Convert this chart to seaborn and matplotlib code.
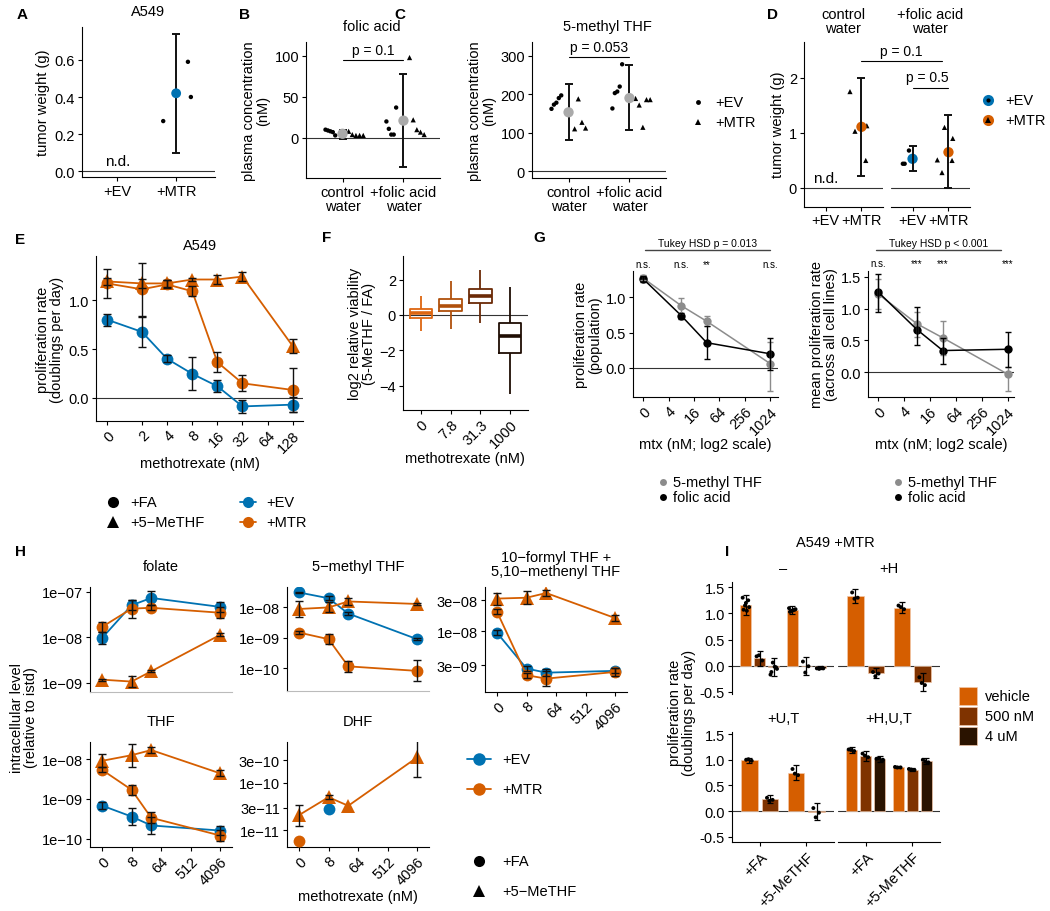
import numpy as np
import pandas as pd
import matplotlib.pyplot as plt
import seaborn as sns
from matplotlib.lines import Line2D
from matplotlib.patches import Rectangle
from matplotlib.ticker import NullLocator

# ---------------- data ----------------
# A: tumor weight, A549
a_groups = ['+EV', '+MTR']
a_mtr_pts = [0.27, 0.59, 0.40]
a_mtr_jit = [-0.22, 0.20, 0.25]
a_mtr_mean, a_mtr_lo, a_mtr_hi = 0.42, 0.10, 0.74

# B / C: plasma folates (circles = +EV mice, triangles = +MTR mice)
bc_groups = ['control\nwater', '+folic acid\nwater']
b_ctrl_ev = [10, 9, 8, 7, 3]
b_ctrl_mtr = [8, 4, 3, 3, 3]
b_fa_ev = [20, 11, 4, 4, 37]
b_fa_mtr = [98, 22, 10, 7, 4]
b_mean = [5, 21]
b_lo = [-1, -35]
b_hi = [10, 78]

c_ctrl_ev = [162, 173, 178, 190, 197]
c_ctrl_mtr = [110, 188, 127, 112]
c_fa_ev = [163, 203, 207, 220, 278]
c_fa_mtr = [189, 172, 114, 186, 186]
c_mean = [153, 190]
c_lo = [82, 107]
c_hi = [227, 275]

ev_jit = [-0.28, -0.24, -0.2, -0.16, -0.12]
mtr_jit = [0.1, 0.16, 0.22, 0.28, 0.34]

# D: tumor weight by water
d_ctrl_mtr = [1.75, 1.03, 1.13, 0.50]
d_ctrl_mtr_jit = [-0.32, -0.18, 0.15, 0.12]
d_ctrl_mtr_mean, d_ctrl_mtr_lo, d_ctrl_mtr_hi = 1.11, 0.22, 2.0
d_fa_ev = [0.68, 0.44, 0.44, 0.54]
d_fa_ev_jit = [-0.1, -0.27, -0.22, 0.05]
d_fa_ev_mean, d_fa_ev_lo, d_fa_ev_hi = 0.53, 0.30, 0.76
d_fa_mtr = [0.51, 0.28, 1.10, 0.90, 0.50]
d_fa_mtr_jit = [-0.31, -0.18, -0.11, 0.12, 0.10]
d_fa_mtr_mean, d_fa_mtr_lo, d_fa_mtr_hi = 0.65, 0.0, 1.32

# E: proliferation vs methotrexate
e_dose = [0, 2, 4, 8, 16, 32, 128]
e_ticks = [0, 2, 4, 8, 16, 32, 64, 128]
e_ev_fa = [0.80, 0.675, 0.40, 0.247, 0.12, -0.086, -0.068]
e_ev_fa_err = [0.06, 0.15, 0.035, 0.17, 0.06, 0.07, 0.075]
e_mtr_fa = [1.17, 1.11, 1.16, 1.09, 0.366, 0.15, 0.082]
e_mtr_fa_err = [0.15, 0.27, 0.04, 0.05, 0.105, 0.08, 0.22]
e_mtr_mthf = [1.19, 1.17, 1.17, 1.21, 1.21, 1.24, 0.53]
e_mtr_mthf_err = [0.04, 0.05, 0.04, 0.02, 0.05, 0.05, 0.075]

# F: log2 relative viability boxes
f_dose = ['0', '7.8', '31.3', '1000']
f_whislo = [-0.9, -0.8, -0.45, -4.5]
f_q1 = [-0.15, 0.2, 0.7, -2.15]
f_med = [0.1, 0.5, 1.1, -1.2]
f_q3 = [0.35, 0.9, 1.45, -0.45]
f_whishi = [1.05, 1.95, 2.55, 1.6]
f_colors = ['#DD6610', '#B0500C', '#6B2A06', '#1F0D03']

# G: population / mean across cell lines
g_dose = [0, 8, 32, 1024]
g_ticks = [0, 4, 16, 64, 256, 1024]
g_pop_mthf = [1.27, 0.88, 0.66, 0.06]
g_pop_mthf_lo = [1.24, 0.77, 0.59, -0.32]
g_pop_mthf_hi = [1.31, 0.99, 0.73, 0.37]
g_pop_fa = [1.26, 0.74, 0.357, 0.20]
g_pop_fa_lo = [1.22, 0.69, 0.13, -0.03]
g_pop_fa_hi = [1.30, 0.78, 0.59, 0.43]
g_pop_stars = ['n.s.', 'n.s.', '**', 'n.s.']
g_all_mthf = [1.23, 0.76, 0.54, -0.03]
g_all_mthf_lo = [1.0, 0.55, 0.27, -0.29]
g_all_mthf_hi = [1.46, 0.95, 0.80, 0.08]
g_all_fa = [1.26, 0.67, 0.34, 0.36]
g_all_fa_lo = [0.95, 0.42, 0.13, 0.08]
g_all_fa_hi = [1.55, 1.03, 0.53, 0.63]
g_all_stars = ['n.s.', '***', '***', '***']

# H: intracellular folates (mean, fold error)
h_dose = [0, 8, 32, 4096]
h_ticks = [0, 8, 64, 512, 4096]
h_folate_ev = [9.7e-9, 5.1e-8, 7.4e-8, 4.7e-8]
h_folate_ev_err = [1.37, 1.3, 1.43, 1.31]
h_folate_fa = [1.7e-8, 4.3e-8, 4.5e-8, 3.5e-8]
h_folate_fa_err = [1.31, 1.58, 1.13, 1.31]
h_folate_mthf = [1.18e-9, 1.07e-9, 1.8e-9, 1.14e-8]
h_folate_mthf_err = [1.05, 1.31, 1.05, 1.08]
h_mthf_ev = [3.1e-8, 2.0e-8, 6.3e-9, 9.1e-10]
h_mthf_ev_err = [1.05, 1.15, 1.1, 1.1]
h_mthf_fa = [1.5e-9, 9.1e-10, 1.17e-10, 8.3e-11]
h_mthf_fa_err = [1.15, 1.46, 1.5, 2.2]
h_mthf_mthf = [8.9e-9, 1.0e-8, 1.57e-8, 1.3e-8]
h_mthf_mthf_err = [1.8, 1.46, 1.29, 1.1]
h_formyl_ev = [9.5e-9, 2.66e-9, 2.3e-9, 2.45e-9]
h_formyl_ev_err = [1.09, 1.1, 1.13, 1.09]
h_formyl_fa = [2.0e-8, 2.1e-9, 1.86e-9, 2.36e-9]
h_formyl_fa_err = [1.09, 1.09, 1.3, 1.17]
h_formyl_mthf = [3.2e-8, 3.3e-8, 3.9e-8, 1.6e-8]
h_formyl_mthf_err = [1.24, 1.27, 1.13, 1.11]
h_thf_ev = [6.8e-10, 3.6e-10, 2.15e-10, 1.6e-10]
h_thf_ev_err = [1.23, 1.61, 1.61, 1.33]
h_thf_fa = [5.4e-9, 1.7e-9, 3.35e-10, 1.2e-10]
h_thf_fa_err = [1.15, 1.33, 1.39, 1.41]
h_thf_mthf = [9.1e-9, 1.26e-8, 1.7e-8, 4.4e-9]
h_thf_mthf_err = [1.47, 1.96, 1.21, 1.19]
h_dhf_ev = [np.nan, 2.85e-11, np.nan, np.nan]
h_dhf_ev_err = [1.0, 1.0, 1.0, 1.0]
h_dhf_fa = [5.9e-12, np.nan, np.nan, np.nan]
h_dhf_fa_err = [1.0, 1.0, 1.0, 1.0]
h_dhf_mthf = [2.1e-11, 5.0e-11, 3.3e-11, 3.45e-10]
h_dhf_mthf_err = [1.67, 1.09, 1.0, 2.55]

# I: A549 +MTR rescue bars
i_supp = ['+FA', '+5-MeTHF']
i_levels = ['vehicle', '500 nM', '4 uM']
i_palette = {'vehicle': '#D55E00', '500 nM': '#7F3300', '4 uM': '#2A1300'}
i_minus_mean = [[1.16, 0.14, -0.03], [1.06, -0.01, -0.04]]
i_minus_err = [[0.2, 0.14, 0.17], [0.08, 0.17, 0.03]]
i_minus_pts = [[[1.3, 1.25, 1.15, 1.12, 1.07, 1.05, 1.2], [0.18, 0.1, 0.2], [-0.17, -0.03, 0.06, -0.06, -0.12, -0.02]],
               [[1.1, 1.07, 1.05, 1.08, 1.03, 1.06], [0.08, -0.01, -0.13], [-0.05, -0.04, -0.06, -0.05]]]
i_h_mean = [[1.33, -0.14], [1.11, -0.31]]
i_h_err = [[0.14, 0.1], [0.1, 0.17]]
i_h_pts = [[[1.4, 1.3, 1.28], [-0.12, -0.15, -0.2]], [[1.15, 1.08, 1.12], [-0.22, -0.37, -0.33]]]
i_ut_mean = [[0.99, 0.23], [0.75, -0.01]]
i_ut_err = [[0.05, 0.08], [0.15, 0.17]]
i_ut_pts = [[[1.0, 0.98, 1.01], [0.26, 0.22, 0.2]], [[0.82, 0.7, 0.73], [0.06, -0.03, -0.12]]]
i_hut_mean = [[1.19, 1.08, 1.01], [0.85, 0.81, 0.97]]
i_hut_err = [[0.05, 0.1, 0.06], [0.02, 0.03, 0.06]]
i_hut_pts = [[[1.2, 1.17, 1.19], [1.12, 1.05, 1.08], [1.02, 0.99, 1.03, 1.0]],
             [[0.86, 0.85, 0.85], [0.82, 0.8, 0.81], [1.0, 0.95, 0.97]]]
i_jit = [-0.07, 0.05, -0.02, 0.07, -0.05, 0.02, 0.0]

# ---------------- style ----------------
FS = 10.5
sns.set_theme(style='ticks')
plt.rcParams['font.family'] = ['Liberation Sans', 'DejaVu Sans']
plt.rcParams.update({
    'font.size': FS, 'axes.linewidth': 0.8, 'axes.edgecolor': 'black',
    'xtick.major.size': 3, 'ytick.major.size': 3,
    'xtick.major.width': 0.8, 'ytick.major.width': 0.8,
    'xtick.major.pad': 2, 'ytick.major.pad': 2,
    'xtick.labelsize': FS, 'ytick.labelsize': FS,
    'xtick.color': 'black', 'ytick.color': 'black',
    'text.color': 'black', 'axes.labelcolor': 'black'})

BLUE = '#0072B2'
ORANGE = '#D55E00'
GRAY = '#8C8C8C'
W, H = 1050, 912
fig = plt.figure(figsize=(W / 100, H / 100), dpi=100)


def fx(x):
    return x / W


def fy(y):
    return 1 - y / H


def panel(l, t, r, b, xlim, ylim, left=True, bottom=True, zero=True):
    ax = fig.add_axes([l / W, 1 - b / H, (r - l) / W, (b - t) / H])
    ax.set_facecolor('none')
    ax.set_xlim(*xlim)
    ax.set_ylim(*ylim)
    for s in ['top', 'right']:
        ax.spines[s].set_visible(False)
    ax.spines['left'].set_visible(left)
    ax.spines['bottom'].set_visible(bottom)
    if not left:
        ax.tick_params(left=False, labelleft=False)
    if not bottom:
        ax.tick_params(bottom=False, labelbottom=False)
    if zero:
        ax.axhline(0, color='#333333', lw=0.8, zorder=0)
    return ax


def txt(x, y, s, **kw):
    kw.setdefault('ha', 'center')
    kw.setdefault('va', 'center')
    kw.setdefault('fontsize', FS)
    fig.text(fx(x), fy(y), s, **kw)


def ylab(x, y, s, **kw):
    txt(x, y, s, rotation=90, linespacing=1.0, **kw)


def log2_pos(doses, zero):
    d = np.asarray(doses, float)
    out = np.full(d.shape, float(zero))
    out[d > 0] = np.log2(d[d > 0])
    return out


def dots(ax, x, y, color='black', marker='o', s=10, z=3):
    sns.scatterplot(x=np.asarray(x, float), y=np.asarray(y, float), color=color, marker=marker,
                    s=s, edgecolor='none', linewidth=0, legend=False, ax=ax, zorder=z)


def ebar(ax, x, y, lo, hi, color='#111111', cap=3, lw=1.0, z=4):
    y = np.asarray(y, float)
    ax.errorbar(np.asarray(x, float), y, yerr=[y - np.asarray(lo, float), np.asarray(hi, float) - y],
                fmt='none', ecolor=color, elinewidth=lw, capsize=cap, capthick=lw, zorder=z)


def series(ax, x, y, color, marker, ms, lw=1.3):
    df = pd.DataFrame({'x': np.asarray(x, float), 'y': np.asarray(y, float)}).dropna()
    sns.lineplot(data=df, x='x', y='y', color=color, marker=marker, markersize=ms,
                 markeredgewidth=0, lw=lw, ax=ax, legend=False, errorbar=None, sort=False, zorder=3)
    ax.set_xlabel('')
    ax.set_ylabel('')


def key(x, y, color, marker=None, ms=6, span=0, lw=1.3):
    if span:
        fig.add_artist(Line2D([fx(x - span), fx(x + span)], [fy(y), fy(y)], color=color, lw=lw,
                              transform=fig.transFigure))
    if marker:
        fig.add_artist(Line2D([fx(x)], [fy(y)], color=color, marker=marker, ms=ms, ls='none',
                              mew=0, transform=fig.transFigure))


# ---------------- A ----------------
ax = panel(82, 28, 215, 178, (-0.6, 1.66), (-0.032, 0.778))
ax.set_xticks(range(2), a_groups)
ax.set_yticks([0, 0.2, 0.4, 0.6], ['0.0', '0.2', '0.4', '0.6'])
dots(ax, 1 + np.array(a_mtr_jit), a_mtr_pts)
ebar(ax, [1], [a_mtr_mean], [a_mtr_lo], [a_mtr_hi], lw=1.4)
dots(ax, [1], [a_mtr_mean], color=BLUE, s=50, z=5)
ax.text(0, 0.015, 'n.d.', ha='center', va='bottom', fontsize=11)
txt(148, 12, 'A549')
ylab(43, 103, 'tumor weight (g)')
txt(22, 15, 'A', fontsize=11, fontweight='bold')

# ---------------- B / C ----------------
for (l, r, ylim, yt, ev0, mt0, ev1, mt1, mean, lo, hi, ttl, ttlx, pval, py, lab, lx) in [
        (306, 440, (-49, 117), [0, 50, 100], b_ctrl_ev, b_ctrl_mtr, b_fa_ev, b_fa_mtr,
         b_mean, b_lo, b_hi, 'folic acid', 372, 'p = 0.1', 95, 'B', 245),
        (532, 666, (-18, 336), [0, 100, 200, 300], c_ctrl_ev, c_ctrl_mtr, c_fa_ev, c_fa_mtr,
         c_mean, c_lo, c_hi, '5-methyl THF', 607, 'p = 0.053', 296, 'C', 400)]:
    ax = panel(l, 43, r, 179, (-0.6, 1.6), ylim)
    ax.set_xticks(range(2), bc_groups, linespacing=1.0)
    ax.set_yticks(yt)
    for k, (ev, mt) in enumerate([(ev0, mt0), (ev1, mt1)]):
        dots(ax, k + np.array(ev_jit[:len(ev)]), ev)
        dots(ax, k + np.array(mtr_jit[:len(mt)]), mt, marker='^', s=14)
    ebar(ax, [0, 1], mean, lo, hi, lw=1.4)
    dots(ax, [0, 1], mean, color='#AAAAAA', s=55, z=5)
    span = ylim[1] - ylim[0]
    ax.plot([0, 1], [py, py], color='black', lw=0.8, clip_on=False)
    ax.text(0.5, py + 0.025 * span, pval, ha='center', va='bottom', fontsize=FS - 0.5)
    txt(ttlx, 27, ttl)
    ylab(l - 50, 111, 'plasma concentration\n(nM)')
    txt(lx, 15, lab, fontsize=11, fontweight='bold')

key(698, 103, 'black', 'o', ms=3.5)
key(698, 123, 'black', '^', ms=4.5)
txt(715, 103, '+EV', ha='left')
txt(715, 123, '+MTR', ha='left')

# ---------------- D ----------------
d_ylim = (-0.345, 2.65)
axd1 = panel(804, 43, 883, 208, (-0.6, 1.6), d_ylim)
axd2 = panel(891, 43, 970, 208, (-0.6, 1.6), d_ylim, left=False)
for ax in (axd1, axd2):
    ax.set_xticks(range(2), a_groups)
    ax.tick_params(axis='x', pad=1)
axd1.set_yticks([0, 1, 2])
dots(axd1, 1 + np.array(d_ctrl_mtr_jit), d_ctrl_mtr, marker='^', s=14)
ebar(axd1, [1], [d_ctrl_mtr_mean], [d_ctrl_mtr_lo], [d_ctrl_mtr_hi], lw=1.4)
dots(axd1, [1], [d_ctrl_mtr_mean], color=ORANGE, s=55, z=3.5)
axd1.text(0, 0.06, 'n.d.', ha='center', va='bottom', fontsize=11)
dots(axd2, np.array(d_fa_ev_jit), d_fa_ev)
ebar(axd2, [0], [d_fa_ev_mean], [d_fa_ev_lo], [d_fa_ev_hi], lw=1.4)
dots(axd2, [0], [d_fa_ev_mean], color=BLUE, s=55, z=3.5)
dots(axd2, 1 + np.array(d_fa_mtr_jit), d_fa_mtr, marker='^', s=14)
ebar(axd2, [1], [d_fa_mtr_mean], [d_fa_mtr_lo], [d_fa_mtr_hi], lw=1.4)
dots(axd2, [1], [d_fa_mtr_mean], color=ORANGE, s=55, z=3.5)
axd1.plot([1, 3.25], [2.3, 2.3], color='black', lw=0.8, clip_on=False)
axd1.text(2.1, 2.36, 'p = 0.1', ha='center', va='bottom', fontsize=FS - 0.5)
axd2.plot([0, 1], [1.82, 1.82], color='black', lw=0.8, clip_on=False)
axd2.text(0.4, 1.88, 'p = 0.5', ha='center', va='bottom', fontsize=FS - 0.5)
txt(843, 22, 'control\nwater', linespacing=1.0)
txt(930, 22, '+folic acid\nwater', linespacing=1.0)
ylab(778, 125, 'tumor weight (g)')
txt(772, 15, 'D', fontsize=11, fontweight='bold')
key(988, 101, BLUE, 'o', ms=8)
key(988, 101, 'black', 'o', ms=3)
key(988, 121, ORANGE, 'o', ms=8)
key(988, 121, 'black', '^', ms=4)
txt(1005, 101, '+EV', ha='left')
txt(1005, 121, '+MTR', ha='left')

# ---------------- E ----------------
e_zero = -0.39
ax = panel(96, 257, 303, 422, (-0.83, 7.41), (-0.235, 1.45))
ex = log2_pos(e_dose, e_zero)
series(ax, ex, e_ev_fa, BLUE, 'o', 8.5)
series(ax, ex, e_mtr_fa, ORANGE, 'o', 8.5)
series(ax, ex, e_mtr_mthf, ORANGE, '^', 9.5)
for m, e in [(e_ev_fa, e_ev_fa_err), (e_mtr_fa, e_mtr_fa_err), (e_mtr_mthf, e_mtr_mthf_err)]:
    m = np.array(m)
    e = np.array(e)
    ebar(ax, ex, m, m - e, m + e, cap=3)
ax.set_xticks(log2_pos(e_ticks, e_zero), [str(v) for v in e_ticks],
              rotation=45, ha='right', rotation_mode='anchor')
ax.set_yticks([0, 0.5, 1.0], ['0.0', '0.5', '1.0'])
txt(200, 246, 'A549')
ylab(50, 340, 'proliferation rate\n(doublings per day)')
txt(200, 464, 'methotrexate (nM)')
txt(20, 240, 'E', fontsize=11, fontweight='bold')
key(113, 503, 'black', 'o', ms=8)
key(113, 523, 'black', '^', ms=9)
txt(130, 503, '+FA', ha='left')
txt(130, 523, '+5\u2212MeTHF', ha='left')
key(248, 503, BLUE, 'o', ms=8, span=8)
key(248, 523, ORANGE, 'o', ms=8, span=8)
txt(266, 503, '+EV', ha='left')
txt(266, 523, '+MTR', ha='left')

# ---------------- F ----------------
ax = panel(403, 257, 528, 411, (-0.6, 3.6), (-5.38, 3.34))
f_rows = []
for k, d in enumerate(f_dose):
    for v in (f_whislo[k], f_q1[k], f_med[k], f_q3[k], f_whishi[k]):
        f_rows.append({'dose': d, 'val': v})
f_df = pd.DataFrame(f_rows)
sns.boxplot(data=f_df, x='dose', y='val', hue='dose', order=f_dose, hue_order=f_dose,
            palette=f_colors, saturation=1, fill=False, width=0.75, whis=np.inf, linewidth=1.3,
            medianprops={'linewidth': 2.6}, showcaps=False, legend=False, ax=ax)
ax.set_xlim(-0.6, 3.6)
ax.set_xlabel('')
ax.set_ylabel('')
ax.set_xticks(range(4), f_dose, rotation=45, ha='right', rotation_mode='anchor')
ax.set_yticks([-4, -2, 0, 2])
ylab(362, 334, 'log2 relative viability\n(5-MeTHF / FA)')
txt(465, 459, 'methotrexate (nM)')
txt(327, 238, 'F', fontsize=11, fontweight='bold')

# ---------------- G ----------------
gx = log2_pos(g_dose, 0)
for (l, r, xlim, ylim, yt, mthf, mlo, mhi, fa, flo, fhi, stars, star_y, tk, tk_y, line_x,
     lab, lx, keyx) in [
        (633, 778, (-0.79, 10.6), (-0.41, 1.37), [0, 0.5, 1.0], g_pop_mthf, g_pop_mthf_lo,
         g_pop_mthf_hi, g_pop_fa, g_pop_fa_lo, g_pop_fa_hi, g_pop_stars, 1.47,
         'Tukey HSD p = 0.013', 1.66, (0.15, 10), 'proliferation rate\n(population)', 588, 663),
        (868, 1014, (-0.78, 10.5), (-0.39, 1.59), [0, 0.5, 1.0, 1.5], g_all_mthf, g_all_mthf_lo,
         g_all_mthf_hi, g_all_fa, g_all_fa_lo, g_all_fa_hi, g_all_stars, 1.72,
         'Tukey HSD p < 0.001', 1.92, (-0.2, 9.5), 'mean proliferation rate\n(across all cell lines)',
         824, 898)]:
    ax = panel(l, 272, r, 398, xlim, ylim)
    series(ax, gx, mthf, GRAY, 'o', 6, lw=1.1)
    series(ax, gx, fa, 'black', 'o', 6, lw=1.1)
    ebar(ax, gx, mthf, mlo, mhi, color=GRAY, cap=2.5)
    ebar(ax, gx, fa, flo, fhi, color='black', cap=2.5)
    ax.set_xticks(log2_pos(g_ticks, 0), [str(v) for v in g_ticks],
                  rotation=45, ha='right', rotation_mode='anchor')
    ax.set_yticks(yt, ['%.1f' % v for v in yt])
    for xv, st in zip(gx, stars):
        ax.text(xv, star_y, st, ha='center', va='center', fontsize=7, clip_on=False)
    ax.plot(line_x, [tk_y, tk_y], color='#444444', lw=1.0, clip_on=False)
    ax.text(np.mean(line_x), tk_y + 0.03, tk, ha='center', va='bottom', fontsize=7.5)
    ylab(lx, 335, lab)
    txt((l + r) / 2, 445, 'mtx (nM; log2 scale)')
    key(keyx, 483, GRAY, 'o', ms=5)
    key(keyx, 498, 'black', 'o', ms=5)
    txt(keyx + 10, 483, '5-methyl THF', ha='left')
    txt(keyx + 10, 498, 'folic acid', ha='left')
txt(539, 238, 'G', fontsize=11, fontweight='bold')

# ---------------- H ----------------
hx = log2_pos(h_dose, 0)
h_specs = [
    ('folate', 90, 588, 232, 693, (-9.2, -6.89), [1e-7, 1e-8, 1e-9],
     (h_folate_ev, h_folate_ev_err), (h_folate_fa, h_folate_fa_err), (h_folate_mthf, h_folate_mthf_err), 'top'),
    ('5\u2212methyl THF', 287, 588, 429, 692, (-10.74, -7.33), [1e-8, 1e-9, 1e-10],
     (h_mthf_ev, h_mthf_ev_err), (h_mthf_fa, h_mthf_fa_err), (h_mthf_mthf, h_mthf_mthf_err), 'top'),
    ('10\u2212formyl THF +\n5,10\u2212methenyl THF', 485, 588, 627, 693, (-8.937, -7.316), [3e-8, 1e-8, 3e-9],
     (h_formyl_ev, h_formyl_ev_err), (h_formyl_fa, h_formyl_fa_err), (h_formyl_mthf, h_formyl_mthf_err), 'axis'),
    ('THF', 90, 743, 232, 848, (-10.21, -7.567), [1e-8, 1e-9, 1e-10],
     (h_thf_ev, h_thf_ev_err), (h_thf_fa, h_thf_fa_err), (h_thf_mthf, h_thf_mthf_err), 'axis'),
    ('DHF', 287, 743, 429, 848, (-11.35, -9.138), [3e-10, 1e-10, 3e-11, 1e-11],
     (h_dhf_ev, h_dhf_ev_err), (h_dhf_fa, h_dhf_fa_err), (h_dhf_mthf, h_dhf_mthf_err), 'axis'),
]


def sci(v):
    m, e = ('%.0e' % v).split('e')
    return m + 'e\u2212' + e[1:].zfill(2)


for (ttl, l, t, r, b, ylog, yt, ev, fa, mthf, xmode) in h_specs:
    ax = panel(l, t, r, b, (-1.22, 13.2), (10 ** ylog[0], 10 ** ylog[1]), zero=False)
    ax.set_yscale('log')
    ax.set_ylim(10 ** ylog[0], 10 ** ylog[1])
    series(ax, hx, ev[0], BLUE, 'o', 8.5)
    series(ax, hx, fa[0], ORANGE, 'o', 8.5)
    series(ax, hx, mthf[0], ORANGE, '^', 9.5)
    for m, f in (ev, fa, mthf):
        m = np.array(m, float)
        f = np.array(f, float)
        ok = ~np.isnan(m) & (f > 1.0)
        ebar(ax, hx[ok], m[ok], m[ok] / f[ok], m[ok] * f[ok], cap=3)
    ax.set_yticks(yt, [sci(v) for v in yt])
    ax.yaxis.set_minor_locator(NullLocator())
    if xmode == 'top':
        ax.spines['bottom'].set_color('#BBBBBB')
        ax.tick_params(bottom=False, labelbottom=False)
    else:
        ax.set_xticks(log2_pos(h_ticks, 0), [str(v) for v in h_ticks],
                      rotation=45, ha='right', rotation_mode='anchor')
    ny = t - 21 if '\n' not in ttl else t - 23
    txt((l + r) / 2, ny, ttl, linespacing=1.0)

ylab(24, 718, 'intracellular level\n(relative to istd)')
txt(358, 897, 'methotrexate (nM)')
txt(20, 552, 'H', fontsize=11, fontweight='bold')
key(479, 760, BLUE, 'o', ms=9, span=12)
key(479, 790, ORANGE, 'o', ms=9, span=12)
txt(502, 760, '+EV', ha='left')
txt(502, 790, '+MTR', ha='left')
key(479, 862, 'black', 'o', ms=8)
key(479, 892, 'black', '^', ms=9)
txt(502, 862, '+FA', ha='left')
txt(502, 892, '+5\u2212MeTHF', ha='left')

# ---------------- I ----------------
i_specs = [
    ('\u2013', 732, 583, 834, 695, (-0.54, 1.6), 3, i_minus_mean, i_minus_err, i_minus_pts, True, False),
    ('+H', 838, 583, 940, 695, (-0.54, 1.6), 2, i_h_mean, i_h_err, i_h_pts, False, False),
    ('+U,T', 732, 733, 834, 843, (-0.6, 1.54), 2, i_ut_mean, i_ut_err, i_ut_pts, True, True),
    ('+H,U,T', 838, 733, 940, 843, (-0.6, 1.54), 3, i_hut_mean, i_hut_err, i_hut_pts, False, True),
]
for (ttl, l, t, r, b, ylim, n, means, errs, pts, left, bottom) in i_specs:
    ax = panel(l, t, r, b, (-0.6, 1.6), ylim, left=left, bottom=bottom)
    levels = i_levels[:n]
    rows = [{'supp': s, 'dose': d, 'val': means[si][di]}
            for si, s in enumerate(i_supp) for di, d in enumerate(levels)]
    sns.barplot(data=pd.DataFrame(rows), x='supp', y='val', hue='dose', order=i_supp,
                hue_order=levels, palette=i_palette, saturation=1, width=0.9, gap=0.22,
                errorbar=None, edgecolor='#F3C7A8', linewidth=0.5, legend=False, ax=ax, zorder=1)
    ax.set_xlim(-0.6, 1.6)
    ax.set_ylim(*ylim)
    ax.set_xlabel('')
    ax.set_ylabel('')
    for si in range(2):
        for di in range(n):
            xc = si + (di - (n - 1) / 2) * 0.9 / n
            m, e = means[si][di], errs[si][di]
            ebar(ax, [xc], [m], [m - e], [m + e], color='black', cap=2, lw=0.9)
            p = pts[si][di]
            dots(ax, xc + np.array(i_jit[:len(p)]), p, s=8, z=5)
    ax.set_yticks([-0.5, 0, 0.5, 1.0, 1.5], ['-0.5', '0.0', '0.5', '1.0', '1.5'])
    if bottom:
        ax.set_xticks(range(2), i_supp, rotation=45, ha='right', rotation_mode='anchor')
    txt((l + r) / 2, t - 14, ttl)

txt(835, 543, 'A549 +MTR')
ylab(682, 713, 'proliferation rate\n(doublings per day)')
txt(727, 552, 'I', fontsize=11, fontweight='bold')
for k, lev in enumerate(i_levels):
    yk = 697 + 20 * k
    fig.add_artist(Rectangle((fx(959), fy(yk + 9)), 18 / W, 18 / H, facecolor=i_palette[lev],
                             edgecolor='#F3C7A8', lw=0.5, transform=fig.transFigure))
    txt(985, yk, lev, ha='left')

fig.savefig('out.png', dpi=100)
